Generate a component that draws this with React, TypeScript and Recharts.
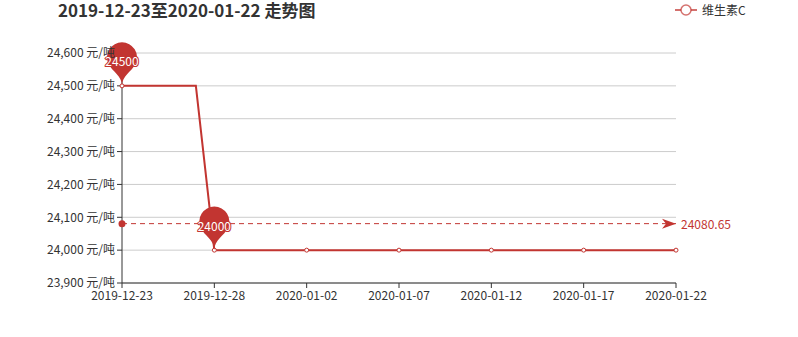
import React from 'react';
import { LineChart, Line, XAxis, YAxis, CartesianGrid, ReferenceLine, ReferenceDot } from 'recharts';

const dates = [
  '2019-12-23', '2019-12-24', '2019-12-25', '2019-12-26', '2019-12-27', '2019-12-28',
  '2019-12-29', '2019-12-30', '2019-12-31', '2020-01-01', '2020-01-02', '2020-01-03',
  '2020-01-04', '2020-01-05', '2020-01-06', '2020-01-07', '2020-01-08', '2020-01-09',
  '2020-01-10', '2020-01-11', '2020-01-12', '2020-01-13', '2020-01-14', '2020-01-15',
  '2020-01-16', '2020-01-17', '2020-01-18', '2020-01-19', '2020-01-20', '2020-01-21',
  '2020-01-22',
];
const prices = [
  24500, 24500, 24500, 24500, 24500, 24000,
  24000, 24000, 24000, 24000, 24000, 24000,
  24000, 24000, 24000, 24000, 24000, 24000,
  24000, 24000, 24000, 24000, 24000, 24000,
  24000, 24000, 24000, 24000, 24000, 24000,
  24000,
];
const yTicks = [23900, 24000, 24100, 24200, 24300, 24400, 24500, 24600];
const seriesName = '维生素C';
const titleText = '2019-12-23至2020-01-22 走势图';

const RED = '#c23531';
const FONT = '"Noto Sans CJK SC", "Open Sans", sans-serif';

const data = dates.map((date, i) => ({ date, price: prices[i] }));
const maxVal = Math.max(...prices);
const minVal = Math.min(...prices);
const maxIdx = prices.indexOf(maxVal);
const minIdx = prices.indexOf(minVal);
const avg = prices.reduce((a, b) => a + b, 0) / prices.length;

// echarts-style pin, tip sits at (x, y)
const pinPath = (x: number, y: number, size = 50) => {
  const w = (size / 5) * 3;
  const h = Math.max(w, size);
  const r = w / 2;
  const dy = (r * r) / (h - r);
  const cy = y - h + r + dy;
  const angle = Math.asin(dy / r);
  const dx = Math.cos(angle) * r;
  const tanX = Math.sin(angle);
  const tanY = Math.cos(angle);
  const cpLen = r * 0.6;
  const cpLen2 = r * 0.7;
  return [
    `M${x - dx},${cy + dy}`,
    `A${r},${r} 0 1 1 ${x + dx},${cy + dy}`,
    `C${x + dx - tanX * cpLen},${cy + dy + tanY * cpLen} ${x},${y - cpLen2} ${x},${y}`,
    `C${x},${y - cpLen2} ${x - dx + tanX * cpLen},${cy + dy + tanY * cpLen} ${x - dx},${cy + dy}`,
    'Z',
  ].join(' ');
};

const makePin = (value: number) => (props: any) => {
  const { cx, cy } = props;
  return (
    <g>
      <path d={pinPath(cx, cy)} fill={RED} />
      <text
        x={cx}
        y={cy - 25}
        textAnchor="middle"
        dominantBaseline="central"
        fill="#fff"
        stroke={RED}
        strokeWidth={2}
        paintOrder="stroke"
        fontSize={12}
        fontFamily={FONT}
      >
        {value}
      </text>
    </g>
  );
};

const AvgArrow = (props: any) => {
  const { cx, cy } = props;
  return (
    <g>
      <path d={`M${cx},${cy} L${cx - 14},${cy - 5} L${cx - 10},${cy} L${cx - 14},${cy + 5} Z`} fill={RED} />
      <text x={cx + 5} y={cy} dominantBaseline="central" fill={RED} fontSize={12} fontFamily={FONT}>
        {avg.toFixed(2)}
      </text>
    </g>
  );
};

const StartDot = (props: any) => <circle cx={props.cx} cy={props.cy} r={3.5} fill={RED} />;

const SparseDot = (props: any) => {
  const { cx, cy, index } = props;
  if (index % 5 !== 0) return <g key={`d${index}`} />;
  return <circle key={`d${index}`} cx={cx} cy={cy} r={2} fill="#fff" stroke={RED} strokeWidth={1} />;
};

const tickStyle = { fontSize: 12, fill: '#333', fontFamily: FONT };

export default function App() {
  return (
    <div style={{ position: 'absolute', left: 0, top: 0, width: 798, height: 337, background: '#fff', fontFamily: FONT }}>
      <svg width={798} height={24} style={{ position: 'absolute', left: 0, top: 0 }}>
        <text x={58} y={17} fontSize={17} fontWeight="bold" fill="#333" fontFamily={FONT}>
          {titleText}
        </text>
      </svg>
      <div style={{ position: 'absolute', left: 674, top: 2, display: 'flex', alignItems: 'center', fontSize: 12, color: '#333', lineHeight: '16px' }}>
        <svg width={24} height={14}>
          <line x1={1} y1={7} x2={23} y2={7} stroke={RED} strokeOpacity={0.7} strokeWidth={2} />
          <circle cx={12} cy={7} r={5} fill="#fff" stroke={RED} strokeOpacity={0.7} strokeWidth={1.5} />
        </svg>
        <span style={{ marginLeft: 4 }}>{seriesName}</span>
      </div>
      <LineChart width={798} height={337} data={data} margin={{ top: 53, right: 122, bottom: 24, left: 0 }}>
        <CartesianGrid horizontal vertical={false} stroke="#ccc" />
        <XAxis
          dataKey="date"
          interval={4}
          height={30}
          tickSize={5}
          tickMargin={3}
          tick={tickStyle}
          axisLine={{ stroke: '#333' }}
          tickLine={{ stroke: '#333' }}
        />
        <YAxis
          width={122}
          domain={[23900, 24600]}
          ticks={yTicks}
          tickSize={5}
          tick={tickStyle}
          axisLine={{ stroke: '#333' }}
          tickLine={{ stroke: '#333' }}
          tickFormatter={(v: number) => `${v.toLocaleString('en-US')} 元/吨`}
        />
        <ReferenceLine y={avg} stroke={RED} strokeDasharray="5 4" strokeWidth={1} />
        <ReferenceDot x={dates[0]} y={avg} shape={StartDot} />
        <ReferenceDot x={dates[dates.length - 1]} y={avg} shape={AvgArrow} />
        <Line
          type="linear"
          dataKey="price"
          name={seriesName}
          stroke={RED}
          strokeWidth={2}
          dot={SparseDot}
          activeDot={false}
          isAnimationActive={false}
        />
        <ReferenceDot x={dates[maxIdx]} y={maxVal} shape={makePin(maxVal)} />
        <ReferenceDot x={dates[minIdx]} y={minVal} shape={makePin(minVal)} />
      </LineChart>
    </div>
  );
}
